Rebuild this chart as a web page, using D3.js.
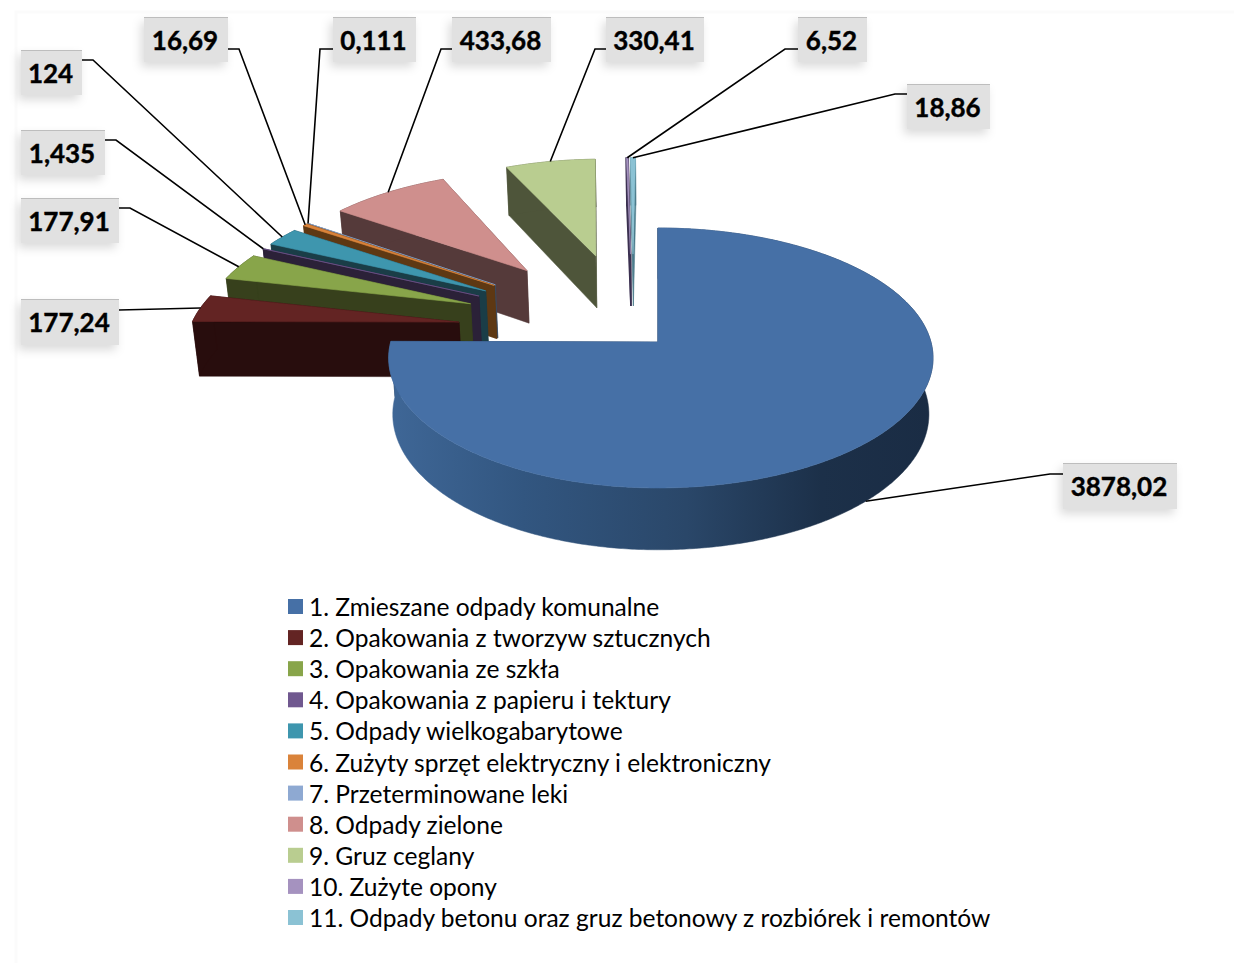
<!DOCTYPE html>
<html lang="pl"><head><meta charset="utf-8">
<script src="https://cdn.jsdelivr.net/npm/d3@7/dist/d3.min.js"></script>
<style>html,body{margin:0;padding:0;background:#fff}svg{display:block}</style></head>
<body><svg id="c" width="1234" height="963"></svg>
<script>
const categories = ["1. Zmieszane odpady komunalne","2. Opakowania z tworzyw sztucznych","3. Opakowania ze szkła","4. Opakowania z papieru i tektury","5. Odpady wielkogabarytowe","6. Zużyty sprzęt elektryczny i elektroniczny","7. Przeterminowane leki","8. Odpady zielone","9. Gruz ceglany","10. Zużyte opony","11. Odpady betonu oraz gruz betonowy z rozbiórek i remontów"];
const values = [3878.02,177.24,177.91,1.435,124,16.69,0.111,433.68,330.41,6.52,18.86];
const valueLabels = ["3878,02","177,24","177,91","1,435","124","16,69","0,111","433,68","330,41","6,52","18,86"];
const topColors = ["#4670a6","#632423","#88a54a","#70588f","#3e96ae","#da833a","#8ea9d2","#cf8f8d","#b9cd90","#a592bf","#8bc2d4"];
const sideColors = ["#2a4668","#280d0d","#37401c","#2b2138","#1a3d47","#5e3813","#3a4a60","#553a3a","#4e553a","#3b3050","#4a7a8a"];
const legendColors = ["#4670a6","#632423","#88a54a","#70588f","#3e96ae","#da833a","#8ea9d2","#cf8f8d","#b9cd90","#a592bf","#8bc2d4"];
// label box layout: [x, y, width, height, elbow x, elbow y, box-side y]
const labelBoxes = [[1063,463,114,46,1050,474,474],[21,299,98,46,200,308,310],[21,198,98,45,130,208,208],[21,130,84,45,116,140,140],[21,50,61,45,93,60,60],[144,17,84,45,239,49,49],[333,17,83,45,320,49,49],[452,17,99,45,441,49,49],[606,17,98,45,595,49,49],[798,17,69,45,785,49,49],[907,84,83,45,895,94,94]];

const explode = [0.141,0.65,0.65,0.65,0.65,0.65,0.65,0.65,0.65,0.65,0.65];
const nudgeU = [0,0,0,0,0,0,0,0,0,0.007,0.007];
const nudgeV = [0,0.015,0,0,0,0,0,0,0,0,0];
const originU=-0.1, originV=-0.1;
const apexX=658, apexY=342, kx=272, ky=128, persp=0.123;
const project=(u,v)=>{const w=1-persp*v;return [apexX+kx*u/w, apexY+ky*v/w];};
const lower=([x,y])=>[660+(x-660)*0.985, y+48+0.043*(y-166)];

const svg=d3.select("#c");
svg.append("path").attr("d","M1234,12H16V963").attr("fill","none").attr("stroke","#fbfbfb").attr("stroke-width",3);
const defs=svg.append("defs");
const f=defs.append("filter").attr("id","sh").attr("x","-30%").attr("y","-30%").attr("width","160%").attr("height","170%");
f.append("feDropShadow").attr("dx",-3).attr("dy",5).attr("stdDeviation",5).attr("flood-color","#000").attr("flood-opacity",0.14);
const g1=defs.append("linearGradient").attr("id","sideG").attr("gradientUnits","userSpaceOnUse").attr("x1",388).attr("x2",930).attr("y1",0).attr("y2",0);
[[0,"#3f6797"],[0.25,"#325680"],[0.55,"#2a4769"],[0.8,"#1c3049"],[1,"#1a2c44"]].forEach(s=>g1.append("stop").attr("offset",s[0]).attr("stop-color",s[1]));

const pie=d3.pie().sort(null).value(d=>d);
const arcs=pie(values);
const line=d3.line().curve(d3.curveLinear);
const geo=arcs.map((a,i)=>{
  const mid=(a.startAngle+a.endAngle)/2;
  const ou=originU+nudgeU[i]+explode[i]*Math.sin(mid), ov=originV+nudgeV[i]-explode[i]*Math.cos(mid);
  const n=Math.max(2,Math.ceil((a.endAngle-a.startAngle)/0.01));
  const arm=(s)=>i===0?(s<0?s*0.982:s*1.004):s;
  const outer=d3.range(n+1).map(k=>{const t=a.startAngle+(a.endAngle-a.startAngle)*k/n;return project(ou+arm(Math.sin(t)),ov-Math.cos(t));});
  const apex=project(ou,ov);
  const midPt=project(ou+arm(Math.sin(mid)),ov-Math.cos(mid));
  return {i,apex,outer,midPt};
});
const pie3d=svg.append("g");
d3.reverse(geo).forEach(s=>{
  const fill=s.i===0?"url(#sideG)":sideColors[s.i];
  const sw=s.i===9?1.6:0.5;
  const g=pie3d.append("g");
  const a=s.apex, st=s.outer[0], en=s.outer[s.outer.length-1];
  [[a,en],[a,st]].forEach(([p,q])=>{
    g.append("path").attr("d",line([p,q,lower(q),lower(p)])+"Z").attr("fill",s.i===0?"#1f3550":sideColors[s.i]).attr("stroke",s.i===0?"#1f3550":sideColors[s.i]).attr("stroke-width",sw);
  });
  g.append("path").attr("d",line(s.outer.concat(s.outer.map(lower).reverse()))+"Z").attr("fill",fill).attr("stroke",fill).attr("stroke-width",sw);
  g.append("path").attr("d",line([a].concat(s.outer))+"Z").attr("fill",topColors[s.i]).attr("stroke",topColors[s.i]).attr("stroke-width",0.6);
});

// leaders
const leaders=svg.append("g");
labelBoxes.forEach((b,i)=>{
  const s=geo.find(d=>d.i===i);
  const end=i===0?lower(s.midPt):s.midPt;
  const boxEdge=b[4]>b[0]+b[2]/2?b[0]+b[2]:b[0];
  leaders.append("path").attr("d",line([[boxEdge,b[6]],[b[4],b[5]],end])).attr("fill","none").attr("stroke","#000").attr("stroke-width",1.6);
});
const labels=svg.append("g");
labelBoxes.forEach((b,i)=>{
  labels.append("rect").attr("x",b[0]).attr("y",b[1]).attr("width",b[2]).attr("height",b[3]).attr("fill","#e1e1e1").attr("filter","url(#sh)");
  labels.append("line").attr("x1",b[0]).attr("x2",b[0]+b[2]).attr("y1",b[1]+0.5).attr("y2",b[1]+0.5).attr("stroke","#bdbdbd");
  labels.append("text").attr("x",b[0]+b[2]/2-1).attr("y",b[1]+b[3]/2+10).attr("text-anchor","middle").attr("font-family","Lato").attr("font-weight",700).attr("font-size",26).attr("fill","#000").attr("stroke","#000").attr("stroke-width",0.4).text(valueLabels[i]);
});
// legend
const rowY=d3.scalePoint().domain(categories).range([607,918]);
const leg=svg.append("g");
categories.forEach((c,i)=>{
  leg.append("rect").attr("x",288).attr("y",rowY(c)-8).attr("width",15).attr("height",15).attr("fill",legendColors[i]);
  leg.append("text").attr("x",309).attr("y",rowY(c)+9).attr("font-family","Lato").attr("font-size",24.55).attr("fill","#000").text(c);
});
</script></body></html>
